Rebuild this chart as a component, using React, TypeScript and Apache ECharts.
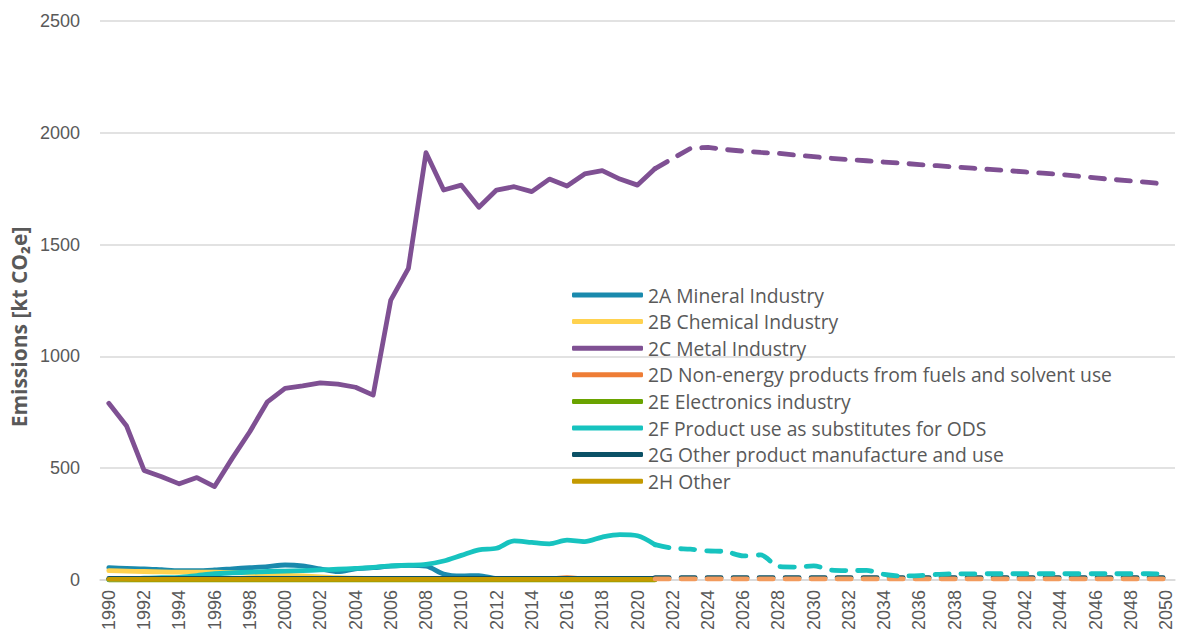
import React, { useEffect, useRef } from "react";
import * as echarts from "echarts";

const years: string[] = Array.from({ length: 61 }, (_, i) => String(1990 + i));

// Historic values 1990–2021 (kt CO2e)
const s2A = [55, 52, 50, 46, 42, 42, 45, 50, 55, 60, 67, 63, 50, 38, 50, 55, 62, 65, 62, 27, 18, 20, 6, 5, 5, 5, 5, 5, 5, 5, 5, 5];
const s2B = [42, 40, 38, 36, 35, 35, 35, 33, 30, 26, 22, 18, 14, 10, 8, 6, 5, 5, 5, 5, 5, 5, 5, 5, 5, 5, 5, 5, 5, 5, 5, 5];
const s2C = [790, 690, 490, 462, 430, 458, 418, 544, 663, 797, 857, 868, 882, 876, 862, 827, 1252, 1394, 1911, 1744, 1766, 1667, 1744, 1759, 1737, 1793, 1762, 1816, 1831, 1793, 1766, 1840];
const s2D = [3, 3, 3, 3, 3, 3, 3, 3, 3, 3, 3, 3, 3, 3, 3, 3, 3, 3, 3, 3, 3, 3, 3, 3, 3, 5, 10, 5, 3, 3, 3, 3];
const s2E = [1, 1, 1, 1, 1, 1, 1, 1, 1, 1, 1, 1, 1, 1, 1, 1, 1, 1, 1, 1, 1, 1, 1, 1, 1, 1, 1, 1, 1, 1, 1, 1];
const s2F = [2, 4, 8, 10, 12, 20, 28, 32, 35, 38, 40, 42, 45, 48, 52, 56, 63, 66, 70, 85, 110, 135, 142, 175, 168, 162, 178, 172, 192, 203, 198, 158];
const s2G = [7, 7, 7, 7, 7, 7, 7, 7, 7, 7, 7, 7, 7, 7, 7, 7, 7, 7, 7, 7, 7, 7, 7, 7, 7, 7, 7, 7, 7, 7, 7, 7];
const s2H = [3, 3, 3, 3, 3, 3, 3, 3, 3, 3, 3, 3, 3, 3, 3, 3, 3, 3, 3, 3, 3, 3, 3, 3, 3, 3, 3, 3, 3, 3, 3, 3];

// Projections 2021–2050
const p2C = [1840, 1885, 1930, 1935, 1925, 1918, 1912, 1908, 1900, 1893, 1886, 1880, 1875, 1869, 1864, 1858, 1853, 1847, 1842, 1836, 1831, 1825, 1820, 1814, 1806, 1798, 1791, 1785, 1778, 1770];
const p2F = [158, 142, 138, 130, 127, 108, 112, 60, 58, 63, 44, 42, 43, 25, 18, 20, 25, 28, 27, 28, 28, 28, 28, 28, 28, 28, 28, 28, 28, 27];
const p2D = [5, 5, 5, 5, 5, 5, 5, 5, 5, 5, 5, 5, 5, 5, 5, 5, 5, 5, 5, 5, 5, 5, 5, 5, 5, 5, 5, 5, 5, 5];
const p2G = [10, 10, 10, 10, 10, 10, 10, 10, 10, 10, 10, 10, 10, 10, 10, 10, 10, 10, 10, 10, 10, 10, 10, 10, 10, 10, 10, 10, 10, 10];

const names = [
  "2A Mineral Industry",
  "2B Chemical Industry",
  "2C Metal Industry",
  "2D Non-energy products from fuels and solvent use",
  "2E Electronics industry",
  "2F Product use as substitutes for ODS",
  "2G Other product manufacture and use",
  "2H Other",
];
const colors = ["#1A8AAD", "#FFD24F", "#7F5093", "#EE7D36", "#6AA300", "#17C3BF", "#0B5166", "#C49A00"];
const historic = [s2A, s2B, s2C, s2D, s2E, s2F, s2G, s2H];

const yTicks = { min: 0, max: 2500, interval: 500 };
const projStart = 2021 - 1990;

function padHist(arr: number[]) {
  const out: (number | null)[] = [];
  for (let i = 0; i < years.length; i++) out.push(i < arr.length ? arr[i] : null);
  return out;
}
function padProj(arr: number[]) {
  const out: (number | null)[] = [];
  for (let i = 0; i < years.length; i++) {
    const k = i - projStart;
    out.push(k >= 0 && k < arr.length ? arr[k] : null);
  }
  return out;
}

export default function App() {
  const ref = useRef<HTMLDivElement>(null);
  useEffect(() => {
    if (!ref.current) return;
    const chart = echarts.init(ref.current, undefined, { renderer: "svg" });
    const lw = 4.8;
    const series: any[] = historic.map((arr, i) => ({
      name: names[i],
      type: "line",
      data: padHist(arr),
      showSymbol: false,
      symbol: "none",
      clip: false,
      smooth: i === 2 ? false : 0.3,
      connectNulls: false,
      itemStyle: { color: colors[i] },
      lineStyle: { color: colors[i], width: lw, cap: "round", join: "round" },
    }));
    const dash = [14, 12];
    const proj = [
      { name: "2G projection", data: p2G, color: colors[6] },
      { name: "2D projection", data: p2D, color: "#F29B5E" },
      { name: "2F projection", data: p2F, color: colors[5] },
      { name: "2C projection", data: p2C, color: colors[2] },
    ];
    proj.forEach((p) =>
      series.push({
        name: p.name,
        type: "line",
        data: padProj(p.data),
        showSymbol: false,
        symbol: "none",
        clip: false,
        smooth: p.name.startsWith("2F") ? 0.3 : false,
        itemStyle: { color: p.color },
        lineStyle: { color: p.color, width: lw, type: dash, cap: "round", join: "round" },
      })
    );
    chart.setOption({
      animation: false,
      textStyle: { fontFamily: "Liberation Sans" },
      grid: { left: 100, right: 5, top: 21, bottom: 58, containLabel: false },
      legend: {
        data: names,
        orient: "vertical",
        left: 572,
        top: 285,
        padding: 0,
        itemWidth: 71,
        itemHeight: 5,
        itemGap: 6.6,
        icon: "roundRect",
        textStyle: { fontFamily: "Open Sans", fontSize: 19.3, lineHeight: 20, color: "#595959" },
      },
      xAxis: {
        type: "category",
        data: years,
        boundaryGap: true,
        axisLine: { lineStyle: { color: "#D9D9D9", width: 1.5 } },
        axisTick: { show: false },
        axisLabel: { interval: 1, rotate: 90, fontSize: 18, color: "#595959", margin: 10 },
      },
      yAxis: {
        type: "value",
        min: yTicks.min,
        max: yTicks.max,
        interval: yTicks.interval,
        axisLine: { show: false },
        axisTick: { show: false },
        axisLabel: { fontSize: 18, color: "#595959", margin: 20, formatter: (v: number) => String(v) },
        splitLine: { lineStyle: { color: "#D9D9D9", width: 1.5 } },
      },
      graphic: [
        {
          type: "text",
          x: 19,
          y: 327,
          rotation: Math.PI / 2,
          style: {
            text: "Emissions [kt CO₂e]",
            fontFamily: "Open Sans",
            fontWeight: "bold",
            fontSize: 21,
            fill: "#595959",
            textAlign: "center",
            textVerticalAlign: "middle",
          },
        },
      ],
      series,
    });
    return () => chart.dispose();
  }, []);
  return (
    <div
      ref={ref}
      style={{ position: "absolute", left: 0, top: 0, width: 1180, height: 638 }}
    />
  );
}
